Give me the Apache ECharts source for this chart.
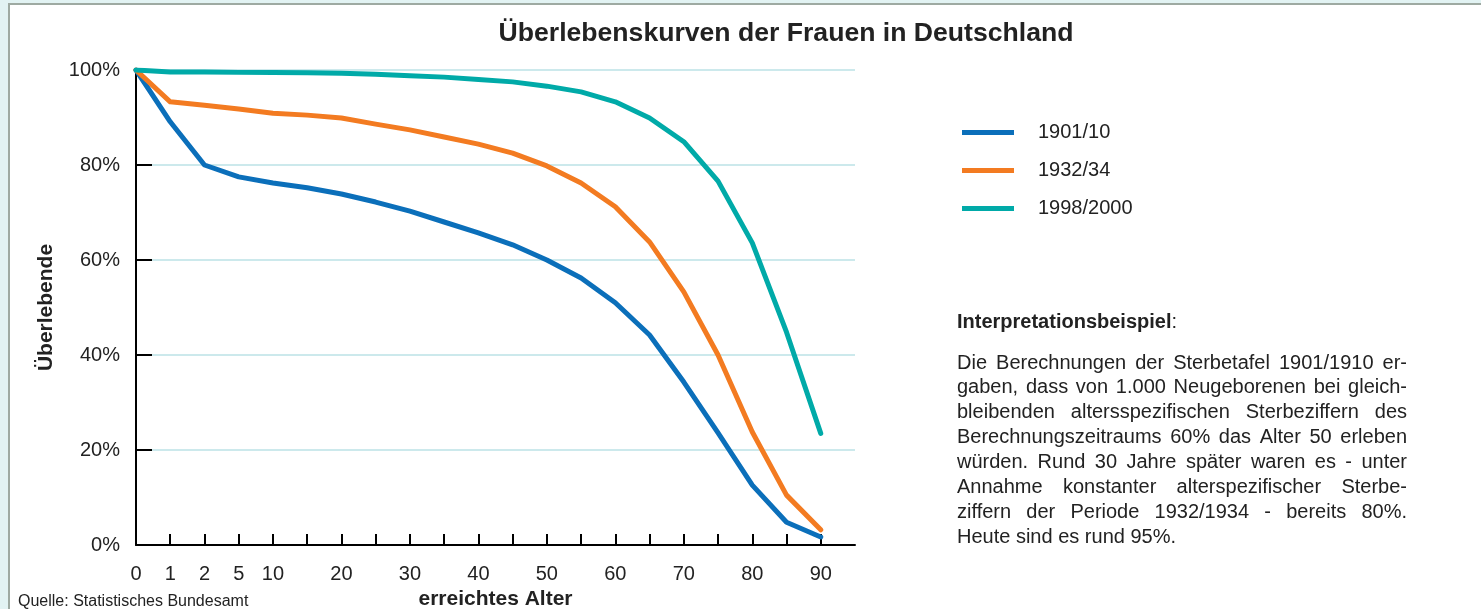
<!DOCTYPE html>
<html><head><meta charset="utf-8">
<script src="https://cdn.jsdelivr.net/npm/echarts@6/dist/echarts.min.js"></script>
<style>
html,body{margin:0;padding:0;background:#e2f3f3;overflow:hidden;}
#frame{position:absolute;left:8px;top:3px;width:1490px;height:620px;border-left:2px solid #9eaaa2;border-top:2px solid #9eaaa2;background:#fff;}
#c{position:absolute;left:0;top:0;width:1481px;height:609px;}
</style>
</head><body><div id="frame"></div><div id="c"></div>
<script>
// ---- data ----
const ages = ['0','1','2','5','10','15','20','25','30','35','40','45','50','55','60','65','70','75','80','85','90',''];
const labeledAges = ['0','1','2','5','10','20','30','40','50','60','70','80','90'];
const yTicks = [0, 20, 40, 60, 80, 100];
const seriesNames = ['1901/10', '1932/34', '1998/2000'];
const s1901 = [100, 89.1, 80.0, 77.5, 76.2, 75.2, 73.9, 72.2, 70.3, 68.0, 65.7, 63.2, 60.0, 56.2, 51.0, 44.2, 34.3, 23.6, 12.6, 4.8, 1.7];
const s1932 = [100, 93.3, 92.6, 91.8, 90.9, 90.5, 89.9, 88.6, 87.4, 85.9, 84.4, 82.5, 79.8, 76.2, 71.2, 63.8, 53.3, 40.0, 23.8, 10.5, 3.2];
const s1998 = [100, 99.6, 99.6, 99.5, 99.5, 99.4, 99.3, 99.1, 98.8, 98.5, 98.0, 97.5, 96.6, 95.4, 93.3, 89.9, 84.9, 76.6, 63.6, 44.8, 23.5];
const titleText = 'Überlebenskurven der Frauen in Deutschland';
const yName = 'Überlebende';
const xName = 'erreichtes Alter';
const sourceText = 'Quelle: Statistisches Bundesamt';
const noteHeading = 'Interpretationsbeispiel';
const noteLines = [
  'Die Berechnungen der Sterbetafel 1901/1910 er-',
  'gaben, dass von 1.000 Neugeborenen bei gleich-',
  'bleibenden altersspezifischen Sterbeziffern des',
  'Berechnungszeitraums 60% das Alter 50 erleben',
  'würden. Rund 30 Jahre später waren es - unter',
  'Annahme konstanter alterspezifischer Sterbe-',
  'ziffern der Periode 1932/1934 - bereits 80%.',
  'Heute sind es rund 95%.'
];

const FONT = '"Liberation Sans", Arial, Helvetica, sans-serif';
const colors = ['#0b6fba', '#f37b21', '#00aaa8'];
const textColor = '#222';

// ---- justified paragraph ----
const cv = document.createElement('canvas').getContext('2d');
const pFont = '20px ' + FONT;
cv.font = pFont;
const px0 = 957, px1 = 1407, py0 = 363, pStep = 24.9;
const graphics = [];
noteLines.forEach((line, li) => {
  const words = line.split(' ');
  const y = py0 + li * pStep;
  const last = li === noteLines.length - 1;
  const widths = words.map(w => cv.measureText(w).width);
  const total = widths.reduce((a, b) => a + b, 0);
  const gap = last ? cv.measureText(' ').width : (px1 - px0 - total) / (words.length - 1);
  let x = px0;
  words.forEach((w, wi) => {
    graphics.push({type: 'text', style: {text: w, x: x, y: y, font: pFont, fill: textColor, verticalAlign: 'middle', textVerticalAlign: 'middle'}});
    x += widths[wi] + gap;
  });
});
graphics.push({type: 'text', style: {
  text: '{b|' + noteHeading + '}{r|:}', x: 957, y: 322, verticalAlign: 'middle', textVerticalAlign: 'middle',
  rich: {b: {fontFamily: FONT, fontSize: 20, fontWeight: 'bold', fill: textColor, color: textColor},
         r: {fontFamily: FONT, fontSize: 20, fill: textColor, color: textColor}}
}});
graphics.push({type: 'text', style: {text: titleText, x: 786, y: 34, font: 'bold 26.6px ' + FONT, fill: textColor, align: 'center', textAlign: 'center', verticalAlign: 'middle', textVerticalAlign: 'middle'}});
graphics.push({type: 'text', style: {text: sourceText, x: 18, y: 602, font: '16px ' + FONT, fill: textColor, verticalAlign: 'middle', textVerticalAlign: 'middle'}});

const chart = echarts.init(document.getElementById('c'), null, {renderer: 'canvas'});
const mk = (name, data, i) => ({
  name: name, type: 'line', data: data, symbol: 'none', smooth: false,
  lineStyle: {width: 5, color: colors[i], cap: 'round', join: 'round'},
  itemStyle: {color: colors[i]}, z: 3 + i
});
chart.setOption({
  animation: false,
  backgroundColor: 'transparent',
  textStyle: {fontFamily: FONT},
  grid: {left: 136, top: 70, bottom: 64, right: 626, containLabel: false, outerBoundsMode: 'none'},
  legend: {
    orient: 'vertical', left: 957, top: 117.5, itemWidth: 52, itemHeight: 5, itemGap: 18, icon: 'rect',
    data: seriesNames,
    textStyle: {fontFamily: FONT, fontSize: 20, lineHeight: 20, color: textColor, padding: [0, 0, 0, 19]}
  },
  xAxis: {
    type: 'category', data: ages, boundaryGap: false,
    name: xName, nameLocation: 'middle', nameGap: 44,
    nameTextStyle: {fontFamily: FONT, fontSize: 21, fontWeight: 'bold', color: textColor},
    axisLine: {lineStyle: {color: '#000', width: 2}},
    axisTick: {inside: true, length: 11, lineStyle: {color: '#000', width: 2}, interval: (i, v) => i > 0 && v !== '', alignWithLabel: true},
    axisLabel: {interval: (i, v) => labeledAges.includes(v), fontSize: 20, color: textColor, margin: 19, fontFamily: FONT},
    splitLine: {show: false}
  },
  yAxis: {
    type: 'value', min: yTicks[0], max: yTicks[yTicks.length - 1], interval: 20,
    name: yName, nameLocation: 'middle', nameGap: 79, nameRotate: 90,
    nameTextStyle: {fontFamily: FONT, fontSize: 21, fontWeight: 'bold', color: textColor},
    axisLine: {show: true, lineStyle: {color: '#000', width: 2}},
    axisTick: {show: true, inside: true, length: 16, lineStyle: {color: '#000', width: 2}},
    axisLabel: {formatter: '{value}%', fontSize: 20, color: textColor, margin: 16, fontFamily: FONT},
    splitLine: {show: true, lineStyle: {color: '#cce9ec', width: 2}}
  },
  graphic: {elements: graphics},
  series: [mk(seriesNames[0], s1901, 0), mk(seriesNames[1], s1932, 1), mk(seriesNames[2], s1998, 2)]
});
</script>
</body></html>
